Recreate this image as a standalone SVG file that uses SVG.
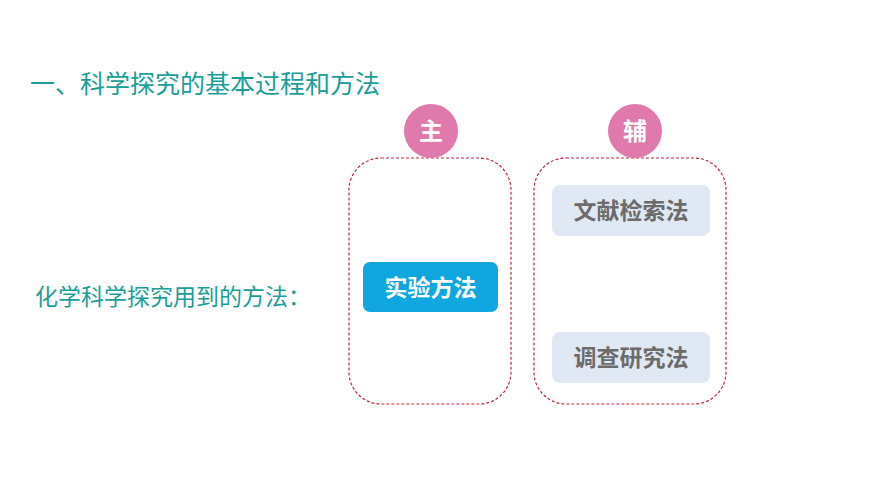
<svg xmlns="http://www.w3.org/2000/svg" width="870" height="489" viewBox="0 0 870 489">
<style>
.t{font-family:"Noto Sans CJK SC","Noto Sans",sans-serif}
.dash{fill:none;stroke:#c0283a;stroke-width:1.2;stroke-dasharray:3 2}
.circ{fill:#e07aad}
.ct{fill:#fff;font-size:24px;font-weight:bold;text-anchor:middle}
.gb{fill:#dfe8f3}
.gt{fill:#6b6b6b;font-size:23px;font-weight:bold;text-anchor:middle}
</style>
<rect width="870" height="489" fill="#fff"/>
<text class="t" x="30" y="93" font-size="25" fill="#1a9e98">一、科学探究的基本过程和方法</text>
<text class="t" x="35" y="305" font-size="23" fill="#1a9e98">化学科学探究用到的方法：</text>
<g id="main">
<rect class="dash" x="349" y="158" width="162" height="246" rx="32"/>
<circle class="circ" cx="431" cy="131" r="27"/>
<text class="t ct" x="431" y="140">主</text>
</g>
<g id="aux">
<rect class="dash" x="534" y="158" width="192" height="246" rx="32"/>
<circle class="circ" cx="635" cy="131" r="27"/>
<text class="t ct" x="635" y="140">辅</text>
</g>
<g id="exp">
<rect x="363" y="262" width="135" height="50" rx="7" fill="#10a6e0"/>
<text class="t" x="430.5" y="296" font-size="23" font-weight="bold" fill="#fff" text-anchor="middle">实验方法</text>
</g>
<g id="lit">
<rect class="gb" x="552" y="185" width="158" height="51" rx="8"/>
<text class="t gt" x="631" y="219">文献检索法</text>
</g>
<g id="survey">
<rect class="gb" x="552" y="332" width="158" height="51" rx="8"/>
<text class="t gt" x="631" y="366">调查研究法</text>
</g>
<g id="connectors"/>
</svg>
